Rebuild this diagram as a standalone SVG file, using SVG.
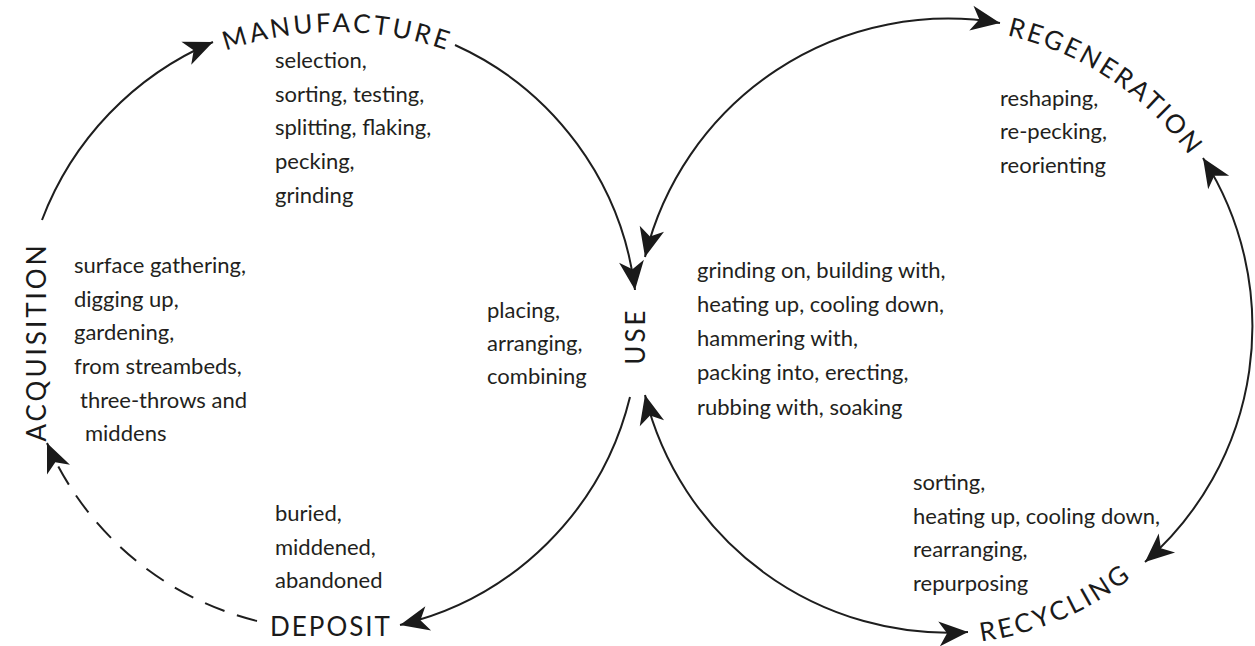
<svg xmlns="http://www.w3.org/2000/svg" width="1255" height="646" viewBox="0 0 1255 646">
  <style>
    .body { font-family: Lato, "Liberation Sans", sans-serif; font-size: 22px; fill: #231f20; }
    .cap { font-family: Lato, "Liberation Sans", sans-serif; font-size: 26px; fill: #1a1a1a; }
    .arc { fill: none; stroke: #1e1e1e; stroke-width: 2; }
    .dash { stroke-dasharray: 21 13; }
  </style>
  <defs>
    <marker id="ah" viewBox="-32 -15 34 30" refX="0" refY="0" markerWidth="34" markerHeight="30" markerUnits="userSpaceOnUse" orient="auto-start-reverse">
      <path d="M0,0 L-29,-12.5 L-21,0 L-29,12.5 Z" fill="#1a1a1a"/>
    </marker>
    <path id="pManu" d="M142,93.5 A340,340 0 0,1 532,93.5"/>
    <path id="pRegen" d="M913.2,29.2 A307,307 0 0,1 1236.5,255.5"/>
    <path id="pRecyc" d="M913.1,642.8 A307,307 0 0,0 1193.1,512.2"/>
  </defs>
  <rect width="1255" height="646" fill="#ffffff"/>

  <g id="connectors">
    <path class="arc" d="M42,220 A315,315 0 0,1 213,42" marker-end="url(#ah)"/>
    <path class="arc" d="M455,45 A310,310 0 0,1 635,290" marker-end="url(#ah)"/>
    <path class="arc" d="M630,397 A310,310 0 0,1 400,625" marker-end="url(#ah)"/>
    <path class="arc dash" d="M257,621 A310,310 0 0,1 47,443" marker-end="url(#ah)"/>
    <path class="arc" d="M645,257 A312,312 0 0,1 1000,23" marker-start="url(#ah)" marker-end="url(#ah)"/>
    <path class="arc" d="M1203,158 A312,312 0 0,1 1145,562" marker-start="url(#ah)" marker-end="url(#ah)"/>
    <path class="arc" d="M645,395 A312,312 0 0,0 968,632" marker-start="url(#ah)" marker-end="url(#ah)"/>
  </g>

  <g id="manufacture">
    <text class="cap" letter-spacing="3"><textPath href="#pManu" startOffset="207.7" text-anchor="middle">MANUFACTURE</textPath></text>
    <text class="body" x="275">
      <tspan x="275" y="68">selection,</tspan>
      <tspan x="275" y="102">sorting, testing,</tspan>
      <tspan x="275" y="135">splitting, flaking,</tspan>
      <tspan x="275" y="169">pecking,</tspan>
      <tspan x="275" y="203">grinding</tspan>
    </text>
  </g>

  <g id="acquisition">
    <text class="cap" transform="translate(46,342) rotate(-90)" text-anchor="middle" letter-spacing="3">ACQUISITION</text>
    <text class="body">
      <tspan x="74" y="273">surface gathering,</tspan>
      <tspan x="74" y="307">digging up,</tspan>
      <tspan x="74" y="340">gardening,</tspan>
      <tspan x="74" y="374">from streambeds,</tspan>
      <tspan x="80" y="408">three-throws and</tspan>
      <tspan x="85" y="441">middens</tspan>
    </text>
  </g>

  <g id="deposit">
    <text class="cap" x="270" y="636" letter-spacing="2">DEPOSIT</text>
    <text class="body">
      <tspan x="275" y="521">buried,</tspan>
      <tspan x="275" y="555">middened,</tspan>
      <tspan x="275" y="588">abandoned</tspan>
    </text>
  </g>

  <g id="use">
    <text class="cap" transform="translate(645,336) rotate(-90)" text-anchor="middle" letter-spacing="3">USE</text>
    <text class="body">
      <tspan x="487" y="318">placing,</tspan>
      <tspan x="487" y="351">arranging,</tspan>
      <tspan x="487" y="384">combining</tspan>
    </text>
    <text class="body">
      <tspan x="697" y="278">grinding on, building with,</tspan>
      <tspan x="697" y="312">heating up, cooling down,</tspan>
      <tspan x="697" y="346">hammering with,</tspan>
      <tspan x="697" y="380">packing into, erecting,</tspan>
      <tspan x="697" y="415">rubbing with, soaking</tspan>
    </text>
  </g>

  <g id="regeneration">
    <text class="cap" letter-spacing="2.5"><textPath href="#pRegen" startOffset="207" text-anchor="middle">REGENERATION</textPath></text>
    <text class="body">
      <tspan x="1000" y="106">reshaping,</tspan>
      <tspan x="1000" y="139">re-pecking,</tspan>
      <tspan x="1000" y="173">reorienting</tspan>
    </text>
  </g>

  <g id="recycling">
    <text class="cap" letter-spacing="3"><textPath href="#pRecyc" startOffset="151.8" text-anchor="middle">RECYCLING</textPath></text>
    <text class="body">
      <tspan x="913" y="490">sorting,</tspan>
      <tspan x="913" y="524">heating up, cooling down,</tspan>
      <tspan x="913" y="557">rearranging,</tspan>
      <tspan x="913" y="591">repurposing</tspan>
    </text>
  </g>
</svg>
